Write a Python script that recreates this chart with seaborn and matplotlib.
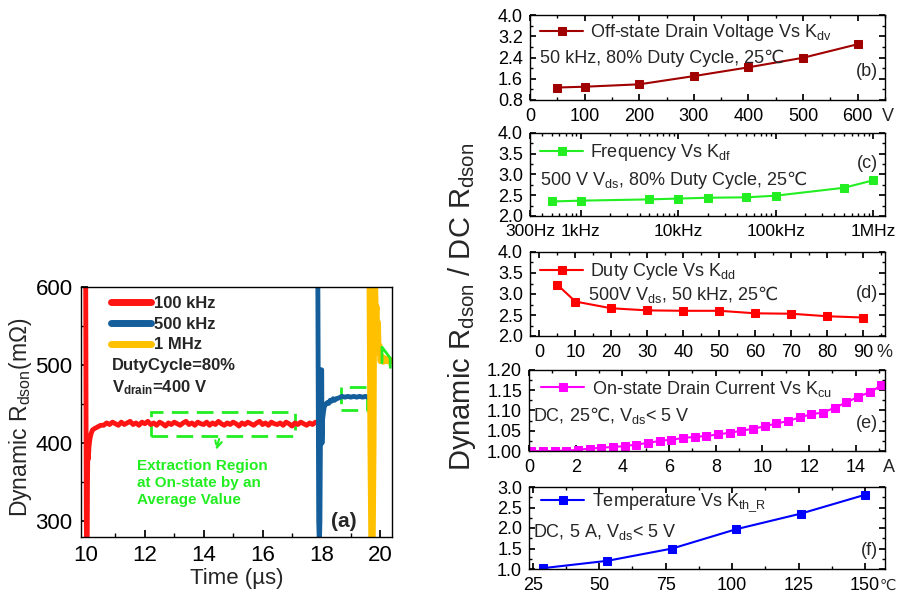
import numpy as np
import pandas as pd
import matplotlib
matplotlib.use("Agg")
import matplotlib.pyplot as plt
import matplotlib.ticker as mticker
from matplotlib.patches import Rectangle
from matplotlib.lines import Line2D
import seaborn as sns

# ── Panel (a): dynamic Rdson traces ───────────────────────────────────────────
t_100k = [9.97, 9.99, 10.01, 10.02, 10.04, 10.05, 10.06, 10.08, 10.10, 10.13,
          10.17, 10.22, 10.30, 10.40, 10.50,
          10.6, 10.7, 10.8, 10.9, 11.0, 11.1, 11.2, 11.3, 11.4, 11.5, 11.6, 11.7,
          11.8, 11.9, 12.0, 12.1, 12.2, 12.3, 12.4, 12.5, 12.6, 12.7, 12.8, 12.9,
          13.0, 13.1, 13.2, 13.3, 13.4, 13.5, 13.6, 13.7, 13.8, 13.9, 14.0, 14.1,
          14.2, 14.3, 14.4, 14.5, 14.6, 14.7, 14.8, 14.9, 15.0, 15.1, 15.2, 15.3,
          15.4, 15.5, 15.6, 15.7, 15.8, 15.9, 16.0, 16.1, 16.2, 16.3, 16.4, 16.5,
          16.6, 16.7, 16.8, 16.9, 17.0, 17.1, 17.2, 17.3, 17.4, 17.5, 17.6, 17.7,
          17.8, 17.9]
r_100k = [640, 600, 300, 270, 270, 350, 385, 380, 395, 405,
          412, 417, 419, 421, 423,
          423, 426, 424, 427, 425, 423, 427, 424, 426, 428, 424, 426,
          423, 427, 425, 428, 424, 426, 423, 427, 425, 422, 426, 424,
          427, 425, 423, 426, 428, 424, 426, 423, 427, 425, 424, 427,
          423, 426, 424, 428, 425, 423, 426, 424, 427, 425, 422, 426,
          424, 427, 425, 423, 426, 428, 424, 426, 423, 427, 425, 424,
          426, 423, 427, 425, 422, 426, 424, 427, 425, 423, 426, 424,
          427, 425]

t_500k = [17.85, 17.88, 17.91, 17.93, 17.95, 17.97, 17.99, 18.01, 18.02, 18.04,
          18.07, 18.10, 18.15, 18.20, 18.25, 18.30, 18.35, 18.40, 18.45, 18.50,
          18.60, 18.70, 18.80, 18.90, 19.00, 19.10, 19.20, 19.30, 19.40, 19.50,
          19.55]
r_500k = [640, 600, 300, 270, 300, 420, 494, 494, 400, 430,
          440, 447, 450, 452, 451, 455, 454, 457, 455, 457,
          458, 460, 459, 460, 459, 460, 459, 460, 459, 460,
          459]

t_1m = [19.60, 19.63, 19.66, 19.69, 19.75, 19.78, 19.80, 19.82, 19.84, 19.86,
        19.88, 19.90, 19.93, 19.95, 19.98, 20.00, 20.05, 20.10, 20.15, 20.20,
        20.25, 20.30, 20.35, 20.40]
r_1m = [640, 600, 400, 270, 270, 400, 600, 640, 590, 560,
        575, 540, 555, 515, 525, 505, 512, 504, 509, 505,
        508, 504, 507, 505]

trace_labels = ["100 kHz", "500 kHz", "1 MHz"]
trace_colors = ["#FF1414", "#135E9B", "#FFC000"]

# green annotation boxes (time, mOhm)
box_main = [12.2, 409, 17.1, 440]
box_small = [18.65, 442, 19.55, 472]
mark_1m_t = [20.06, 20.06, 20.34, 20.34]
mark_1m_r = [503, 523, 509, 497]

# ── Panels (b)-(f): K factors ─────────────────────────────────────────────────
volt = [50, 100, 200, 300, 400, 500, 600]
k_dv = [1.27, 1.30, 1.39, 1.70, 2.03, 2.39, 2.90]

freq = [500, 1e3, 5e3, 1e4, 2e4, 5e4, 1e5, 5e5, 1e6]
k_df = [2.35, 2.37, 2.40, 2.42, 2.44, 2.45, 2.49, 2.68, 2.86]

duty = [5, 10, 20, 30, 40, 50, 60, 70, 80, 90]
k_dd = [3.22, 2.82, 2.66, 2.61, 2.60, 2.60, 2.54, 2.53, 2.47, 2.44]

curr = [0.1, 0.6, 1.1, 1.6, 2.1, 2.6, 3.1, 3.6, 4.1, 4.6, 5.1, 5.6, 6.1, 6.6,
        7.1, 7.6, 8.1, 8.6, 9.1, 9.6, 10.1, 10.6, 11.1, 11.6, 12.1, 12.6, 13.1,
        13.6, 14.1, 14.6, 15.1]
k_cu = [1.000, 1.000, 1.000, 1.001, 1.003, 1.006, 1.008, 1.010, 1.012, 1.016,
        1.020, 1.025, 1.028, 1.032, 1.035, 1.037, 1.041, 1.045, 1.050, 1.055,
        1.061, 1.068, 1.074, 1.083, 1.091, 1.095, 1.107, 1.120, 1.134, 1.145,
        1.162]

temp = [28.8, 53.1, 77.5, 101.5, 125.8, 150.0]
k_th = [1.02, 1.20, 1.50, 1.97, 2.35, 2.81]

# ── Style ─────────────────────────────────────────────────────────────────────
sns.set_theme(style="ticks")
plt.rcParams["font.family"] = ["Liberation Sans", "DejaVu Sans"]
plt.rcParams.update({
    "mathtext.fontset": "custom",
    "mathtext.rm": "Liberation Sans",
    "mathtext.it": "Liberation Sans:italic",
    "mathtext.bf": "Liberation Sans:bold",
    "mathtext.sf": "DejaVu Sans",
    "mathtext.fallback": "stixsans",
    "axes.edgecolor": "black",
    "axes.linewidth": 1.0,
    "xtick.color": "black",
    "ytick.color": "black",
})
GREEN = "#22EE22"
DEGC = "$\\mathsf{℃}$"

fig = plt.figure(figsize=(8.97, 5.96), dpi=100)
W, H = 897, 596


def px_axes(left, top, right, bottom):
    return fig.add_axes([left / W, 1 - bottom / H, (right - left) / W, (bottom - top) / H])


# ── Panel (a) ─────────────────────────────────────────────────────────────────
ax = px_axes(81, 287, 392, 537)
for t, r, c, lw in zip([t_100k, t_500k, t_1m], [r_100k, r_500k, r_1m],
                       trace_colors, [3.5, 3.5, 4.0]):
    sns.lineplot(data=pd.DataFrame({"t": t, "r": r}), x="t", y="r", sort=False,
                 estimator=None, color=c, lw=lw, ax=ax, legend=False)

ax.add_patch(Rectangle((box_main[0], box_main[1]), box_main[2] - box_main[0],
                       box_main[3] - box_main[1], fill=False, ec=GREEN, lw=2,
                       ls=(0, (6, 3))))
ax.add_patch(Rectangle((box_small[0], box_small[1]), box_small[2] - box_small[0],
                       box_small[3] - box_small[1], fill=False, ec=GREEN, lw=2,
                       ls=(0, (6, 3))))
ax.plot(mark_1m_t, mark_1m_r, color=GREEN, lw=2)
ax.annotate("", xy=(14.4, 388), xytext=(14.55, 409),
            arrowprops=dict(arrowstyle="->", color=GREEN, lw=1.5, ls="--"))

ax.set_xlim(9.83, 20.4)
ax.set_ylim(280, 600)
ax.set_xticks([10, 12, 14, 16, 18, 20])
ax.set_yticks([300, 400, 500, 600])
ax.xaxis.set_minor_locator(mticker.AutoMinorLocator(2))
ax.yaxis.set_minor_locator(mticker.AutoMinorLocator(2))
ax.tick_params(which="both", direction="in", labelsize=16, pad=6)
ax.tick_params(which="major", length=5)
ax.tick_params(which="minor", length=3)
ax.set_xlabel("Time (µs)", fontsize=16, labelpad=1)
ax.set_ylabel("Dynamic R$_{\\mathrm{dson}}$(mΩ)", fontsize=16.5)
ax.yaxis.set_label_coords(-0.15, 0.48)

handles = [Line2D([], [], color=c, lw=5) for c in trace_colors]
ax.legend(handles, trace_labels, loc="upper left", bbox_to_anchor=(0.095, 0.965),
          frameon=False, prop={"weight": "bold", "size": 12}, handlelength=2.4,
          handletextpad=0.2, labelspacing=0.35, borderpad=0, borderaxespad=0)
ax.text(0.10, 0.684, "DutyCycle=80%", transform=ax.transAxes, fontsize=12,
        fontweight="bold", va="center")
ax.text(0.10, 0.596, "V$_{\\mathbf{drain}}$=400 V", transform=ax.transAxes,
        fontsize=12, fontweight="bold", va="center")
ax.text(0.179, 0.216, "Extraction Region\nat On-state by an\nAverage Value",
        transform=ax.transAxes, fontsize=11, fontweight="bold", color=GREEN,
        va="center", linespacing=1.3)
ax.text(0.846, 0.062, "(a)", transform=ax.transAxes, fontsize=15,
        fontweight="bold", ha="center", va="center")

# ── Panels (b)-(f) ────────────────────────────────────────────────────────────
FS = 13


def k_panel(box, x, y, color, label, note, note_xy, tag, tag_y, leg_y,
            xlim, ylim, yticks, yfmt, unit, unit_x, leg_x=0.028, ms=5.5):
    a = px_axes(*box)
    sns.lineplot(x=x, y=y, color=color, marker="s", markersize=ms,
                 markeredgecolor=color, lw=1.5, label=label, ax=a, sort=False,
                 estimator=None)
    a.set_xlim(*xlim)
    a.set_ylim(*ylim)
    a.set_yticks(yticks)
    a.yaxis.set_major_formatter(mticker.FormatStrFormatter(yfmt))
    a.yaxis.set_minor_locator(mticker.AutoMinorLocator(2))
    a.tick_params(which="both", direction="in", top=True, right=True,
                  labelsize=FS, pad=5)
    a.tick_params(axis="x", pad=6)
    a.tick_params(which="major", length=4)
    a.tick_params(which="minor", length=2)
    a.set_xlabel("")
    a.set_ylabel("")
    a.legend(loc="center left", bbox_to_anchor=(leg_x, leg_y), frameon=False,
             fontsize=FS, handlelength=2.4, handletextpad=0.4, borderpad=0,
             borderaxespad=0)
    a.text(note_xy[0], note_xy[1], note, transform=a.transAxes, fontsize=FS,
           va="center")
    a.text(0.98, tag_y, tag, transform=a.transAxes, fontsize=FS, ha="right",
           va="center")
    if unit:
        a.annotate(unit, xy=(unit_x, 0), xycoords="axes fraction",
                   xytext=(0, -6), textcoords="offset points", fontsize=FS,
                   ha="left", va="top")
    return a


ab = k_panel((530, 15, 885, 100), volt, k_dv, "#A00000",
             "Off-state Drain Voltage Vs K$_{\\mathrm{dv}}$",
             "50 kHz, 80% Duty Cycle, 25℃", (0.028, 0.49), "(b)", 0.33, 0.79,
             (0, 650), (0.8, 4.0), [0.8, 1.6, 2.4, 3.2, 4.0], "%.1f", "V", 0.99)
ab.set_xticks([0, 100, 200, 300, 400, 500, 600])
ab.xaxis.set_minor_locator(mticker.AutoMinorLocator(2))

ac = k_panel((530, 133, 885, 216), freq, k_df, "#22EE22",
             "Frequency Vs K$_{\\mathrm{df}}$",
             "500 V V$_{\\mathrm{ds}}$, 80% Duty Cycle, 25" + DEGC, (0.028, 0.43),
             "(c)", 0.63, 0.76, (300, 1.32e6), (2.0, 4.0),
             [2.0, 2.5, 3.0, 3.5, 4.0], "%.1f", None, 0)
ac.set_xscale("log")
ac.set_xlim(300, 1.32e6)
ac.set_xticks([300, 1e3, 1e4, 1e5, 1e6])
ac.set_xticklabels(["300Hz", "1kHz", "10kHz", "100kHz", "1MHz"], fontsize=12.5)
ac.xaxis.set_minor_locator(mticker.LogLocator(base=10, subs=np.arange(2, 10),
                                              numticks=20))
ac.xaxis.set_minor_formatter(mticker.NullFormatter())

ad = k_panel((530, 252, 885, 336), duty, k_dd, "#FF0000",
             "Duty Cycle Vs K$_{\\mathrm{dd}}$",
             "500V V$_{\\mathrm{ds}}$, 50 kHz, 25" + DEGC, (0.164, 0.49), "(d)",
             0.51, 0.77, (-2.6, 96), (2.0, 4.0), [2.0, 2.5, 3.0, 3.5, 4.0],
             "%.1f", "%", 0.975)
ad.set_xticks([0, 10, 20, 30, 40, 50, 60, 70, 80, 90])
ad.xaxis.set_minor_locator(mticker.AutoMinorLocator(2))

ae = k_panel((529, 370, 885, 451), curr, k_cu, "#FF00FF",
             "On-state Drain Current Vs K$_{\\mathrm{cu}}$",
             "DC, 25" + DEGC + ", V$_{\\mathrm{ds}}$< 5 V", (0.01, 0.44), "(e)",
             0.34, 0.77, (0, 15.25), (1.0, 1.2), [1.00, 1.05, 1.10, 1.15, 1.20],
             "%.2f", "A", 0.995, leg_x=0.034, ms=6)
ae.set_xticks([0, 2, 4, 6, 8, 10, 12, 14])
ae.xaxis.set_minor_locator(mticker.AutoMinorLocator(2))

af = k_panel((529, 487, 885, 569), temp, k_th, "#0000FF",
             "Temperature Vs K$_{\\mathrm{th\\_R}}$",
             "DC, 5 A, V$_{\\mathrm{ds}}$< 5 V", (0.01, 0.45), "(f)", 0.23, 0.81,
             (23.6, 157.5), (1.0, 3.0), [1.0, 1.5, 2.0, 2.5, 3.0], "%.1f",
             None, 0, leg_x=0.034)
af.set_xticks([25, 50, 75, 100, 125, 150])
af.xaxis.set_minor_locator(mticker.AutoMinorLocator(2))
af.annotate("℃", xy=(1.0, 0), xycoords="axes fraction", xytext=(8, -7),
            textcoords="offset points", fontsize=10.5, ha="right", va="top")

fig.text(462 / W, 1 - 307 / H, "Dynamic R$_{\\mathrm{dson}}$ / DC R$_{\\mathrm{dson}}$",
         rotation=90, ha="center", va="center", fontsize=21)

fig.savefig("out.png", dpi=100)
